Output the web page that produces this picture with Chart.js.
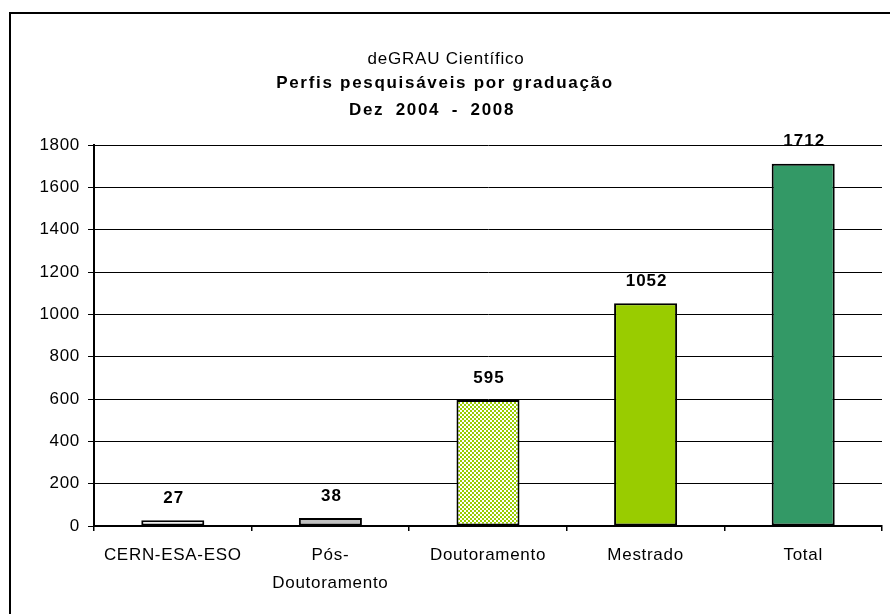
<!DOCTYPE html>
<html lang="pt">
<head>
<meta charset="utf-8">
<title>deGRAU Científico</title>
<script src="https://cdn.jsdelivr.net/npm/chart.js@4/dist/chart.umd.min.js"></script>
<style>
  html, body { margin: 0; padding: 0; background: #fff; }
  #wrap { width: 890px; height: 614px; }
</style>
</head>
<body>
<div id="wrap"><canvas id="grafico"></canvas></div>
<script>
// Perfis pesquisáveis por graduação (Dez 2004 - 2008)
const categorias = ['CERN-ESA-ESO', ['Pós-', 'Doutoramento'], 'Doutoramento', 'Mestrado', 'Total'];
const perfis = [27, 38, 595, 1052, 1712];
const titulo = 'deGRAU Científico';
const subtitulo = ['Perfis pesquisáveis por graduação', 'Dez 2004 - 2008'];
const eixoY = { min: 0, max: 1800, passo: 200 };

const FONTE = '"Liberation Sans", Arial, Helvetica, sans-serif';

// padrão xadrez verde/branco usado na barra do Doutoramento
function padraoXadrez(ctx) {
    const c = document.createElement('canvas');
    c.width = 4;
    c.height = 4;
    const p = c.getContext('2d');
    p.fillStyle = '#ffffff';
    p.fillRect(0, 0, 4, 4);
    p.fillStyle = '#99cc00';
    p.fillRect(0, 0, 2, 2);
    p.fillRect(2, 2, 2, 2);
    return ctx.createPattern(c, 'repeat');
}

const canvas = document.getElementById('grafico');
const ctx = canvas.getContext('2d');
const cores = ['#ffffff', '#c0c0c0', padraoXadrez(ctx), '#99cc00', '#339966'];

// espaçamento entre letras, como no gráfico original do Excel
const espacamento = {
    id: 'espacamento',
    beforeLayout(chart) { chart.ctx.letterSpacing = '0.7px'; },
    beforeDraw(chart) { chart.ctx.letterSpacing = '0.7px'; }
};

// fundo branco e moldura
const moldura = {
    id: 'moldura',
    beforeDraw(chart) {
        const c = chart.ctx;
        c.save();
        c.fillStyle = '#ffffff';
        c.fillRect(0, 0, chart.width, chart.height);
        c.strokeStyle = '#000000';
        c.lineWidth = 2;
        c.strokeRect(10, 13, chart.width + 20, chart.height + 20);
        c.restore();
    }
};

// títulos (três linhas)
const titulos = {
    id: 'titulos',
    afterDraw(chart) {
        const c = chart.ctx;
        const cx = chart.width / 2;
        const linhas = [
            { texto: titulo, fonte: '17px ' + FONTE, y: 59, dx: 1, esp: '0.8px', pal: '0px' },
            { texto: subtitulo[0], fonte: 'bold 17px ' + FONTE, y: 83, dx: 0, esp: '1.7px', pal: '0px' },
            { texto: subtitulo[1], fonte: 'bold 17px ' + FONTE, y: 110, dx: -13, esp: '1.7px', pal: '5px' }
        ];
        c.save();
        c.fillStyle = '#000000';
        c.textAlign = 'center';
        c.textBaseline = 'middle';
        linhas.forEach(l => {
            c.font = l.fonte;
            c.letterSpacing = l.esp;
            c.wordSpacing = l.pal;
            c.fillText(l.texto, cx + l.dx, l.y);
        });
        c.restore();
    }
};

// valores por cima das barras
const rotulos = {
    id: 'rotulos',
    afterDatasetsDraw(chart) {
        const c = chart.ctx;
        const meta = chart.getDatasetMeta(0);
        c.save();
        c.font = 'bold 17px ' + FONTE;
        c.letterSpacing = '1px';
        c.fillStyle = '#000000';
        c.textAlign = 'center';
        c.textBaseline = 'middle';
        meta.data.forEach((barra, i) => {
            c.fillText(String(perfis[i]), barra.x + 1, barra.y - 22);
        });
        c.restore();
    }
};

new Chart(ctx, {
    type: 'bar',
    data: {
        labels: categorias,
        datasets: [{
            data: perfis,
            backgroundColor: cores,
            borderColor: '#000000',
            borderWidth: 2,
            borderSkipped: false,
            barPercentage: 0.4,
            categoryPercentage: 1
        }]
    },
    options: {
        responsive: true,
        maintainAspectRatio: false,
        animation: false,
        events: [],
        layout: { padding: { top: 145, right: 8, left: 0, bottom: 0 } },
        plugins: {
            legend: { display: false },
            title: { display: false },
            tooltip: { enabled: false }
        },
        scales: {
            x: {
                offset: true,
                grid: {
                    display: true,
                    drawOnChartArea: false,
                    offset: true,
                    tickLength: 5,
                    tickColor: '#000000',
                    lineWidth: 1.5
                },
                border: { color: '#000000', width: 2 },
                ticks: {
                    color: '#000000',
                    font: { family: FONTE, size: 17, lineHeight: 1.65 },
                    padding: 10,
                    maxRotation: 0,
                    autoSkip: false
                },
                afterFit(s) { s.height = 88; }
            },
            y: {
                min: eixoY.min,
                max: eixoY.max,
                grid: {
                    color: '#000000',
                    lineWidth: 1,
                    tickLength: 6,
                    tickColor: '#000000'
                },
                border: { color: '#000000', width: 2 },
                ticks: {
                    stepSize: eixoY.passo,
                    color: '#000000',
                    font: { family: FONTE, size: 17 },
                    padding: 8,
                    callback: v => String(v)
                },
                afterFit(s) { s.width = 94; }
            }
        }
    },
    plugins: [espacamento, moldura, titulos, rotulos]
});
</script>
</body>
</html>
